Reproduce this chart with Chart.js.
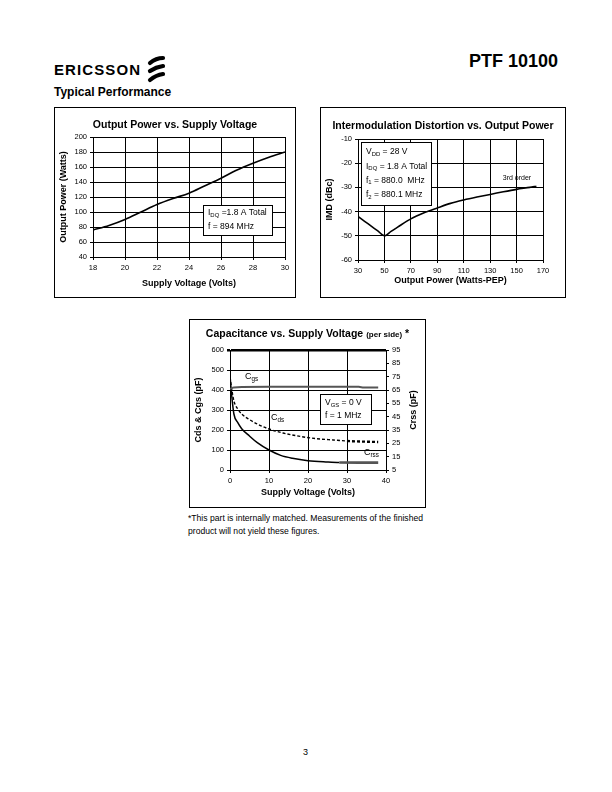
<!DOCTYPE html>
<html>
<head>
<meta charset="utf-8">
<script src="https://cdn.jsdelivr.net/npm/chart.js@4.4.0/dist/chart.umd.min.js"></script>
<style>
body { margin: 0; background: #fff; font-family: "Liberation Sans", Arial, sans-serif; color: #000; }
#page { position: relative; width: 612px; height: 792px; overflow: hidden; }
.abs { position: absolute; white-space: nowrap; }
.box { position: absolute; border: 1px solid #000; box-sizing: border-box; }
.box canvas { position: absolute; left: 0; top: 0; }
.ctitle { position: absolute; left: 0; right: 0; text-align: center; font-weight: bold; font-size: 10.5px; line-height: 12px; white-space: nowrap; }
</style>
</head>
<body>
<div id="page">
  <div class="abs" style="left:54px;top:61px;font-weight:bold;font-size:15px;line-height:18px;letter-spacing:1.1px">ERICSSON</div>
  <svg class="abs" style="left:146px;top:55px" width="22" height="28" viewBox="0 0 22 28">
    <g stroke="#000" stroke-width="4.2" stroke-linecap="round" fill="none">
      <path d="M4 8 Q10 3 17 3"/>
      <path d="M4 16 Q10 12 17 11"/>
      <path d="M4 25 Q10 20 17 19"/>
    </g>
  </svg>
  <div class="abs" style="right:54px;top:51px;font-weight:bold;font-size:18px;line-height:20px">PTF 10100</div>
  <div class="abs" style="left:54px;top:85px;font-weight:bold;font-size:12px;line-height:14px">Typical Performance</div>

  <div class="box" style="left:54px;top:107px;width:242px;height:191px">
    <canvas id="chart1" width="240" height="189"></canvas>
    <div class="ctitle" style="top:10px">Output Power vs. Supply Voltage</div>
  </div>

  <div class="box" style="left:320px;top:107px;width:246px;height:191px">
    <canvas id="chart2" width="244" height="189"></canvas>
    <div class="ctitle" style="top:11px">Intermodulation Distortion vs. Output Power</div>
  </div>

  <div class="box" style="left:189px;top:319px;width:237px;height:189px">
    <canvas id="chart3" width="235" height="187"></canvas>
    <div class="ctitle" style="top:7px">Capacitance vs. Supply Voltage <span style="font-size:8px">(per side)</span> *</div>
  </div>

  <div class="abs" style="left:188px;top:512px;font-size:8.6px;line-height:13px">*This part is internally matched. Measurements of the finished<br>product will not yield these figures.</div>
  <div class="abs" style="left:303px;top:746px;font-size:9px;line-height:12px">3</div>
</div>

<script>
// ---- data ----
var supplyVolts = [18, 19, 20, 21, 22, 23, 24, 25, 26, 27, 28, 29, 30];
var outputWatts = [76, 82, 90, 100, 110, 118, 125, 135, 145, 156, 165, 173, 180];

var pepWatts = [30, 35, 40, 45, 50, 55, 60, 70, 80, 90, 100, 110, 120, 130, 140, 150, 160, 165];
var imdDbc = [-42, -44, -46, -48, -50, -48.2, -46.4, -43, -40.5, -38.5, -36.6, -35.2, -34, -32.9, -31.8, -30.8, -30, -29.5];

var cgsVolts = [0, 0.5, 1, 3, 10, 20, 33, 34, 38];
var cgsPf = [405, 410, 413, 415, 416, 416, 416, 413, 413];

var cdsVolts = [0, 0.4, 1, 2, 3, 5, 7, 10, 13.6, 18, 22, 26.5, 30, 34, 38];
var cdsPf = [465, 410, 345, 305, 280, 252, 230, 205, 185, 168, 157, 150, 145, 142, 140];

var crssVolts = [0, 0.4, 1, 2, 3, 5, 7, 10, 13, 16, 20, 25, 28, 33, 38];
var crssPf = [76, 62, 47, 40.5, 36, 30.5, 25.5, 20, 16, 13.8, 12, 11, 10.6, 10.5, 10.5];

var FONT = '"Liberation Sans", Arial, sans-serif';

function pts(xs, ys) {
  return xs.map(function (x, i) { return { x: x, y: ys[i] }; });
}

// text with subscripts: parts = [[text, isSub], ...]
function richText(ctx, parts, x, y, size, align) {
  var w = 0;
  parts.forEach(function (p) {
    ctx.font = (p[1] ? size * 0.7 : size) + 'px ' + FONT;
    w += ctx.measureText(p[0]).width;
  });
  var cx = align === 'center' ? x - w / 2 : x;
  parts.forEach(function (p) {
    ctx.font = (p[1] ? size * 0.7 : size) + 'px ' + FONT;
    ctx.fillText(p[0], cx, y + (p[1] ? size * 0.28 : 0));
    cx += ctx.measureText(p[0]).width;
  });
}

var notesPlugin = {
  id: 'notes',
  afterDatasetsDraw: function (chart, args, opts) {
    var ctx = chart.ctx, a = chart.chartArea;
    ctx.save();
    ctx.fillStyle = '#000';
    ctx.textBaseline = 'middle';
    if (opts.box) {
      var b = opts.box;
      ctx.fillStyle = '#fff';
      ctx.fillRect(a.left + b.x, a.top + b.y, b.w, b.h);
      ctx.strokeStyle = '#000';
      ctx.lineWidth = 1;
      ctx.strokeRect(a.left + b.x + 0.5, a.top + b.y + 0.5, b.w, b.h);
      ctx.fillStyle = '#000';
      b.lines.forEach(function (ln, i) {
        richText(ctx, ln, a.left + b.x + 5, a.top + b.y + b.first + i * b.step, b.size);
      });
    }
    (opts.labels || []).forEach(function (l) {
      richText(ctx, l.parts, a.left + l.x, a.top + l.y, l.size, l.align);
    });
    if (opts.rightTitle) {
      ctx.translate(opts.rightTitle.x, (a.top + a.bottom) / 2);
      ctx.rotate(-Math.PI / 2);
      ctx.textAlign = 'center';
      ctx.font = 'bold 9px ' + FONT;
      ctx.fillText(opts.rightTitle.text, 0, 0);
    }
    ctx.restore();
  }
};
Chart.register(notesPlugin);

function axis(min, max, step, title, fit, titlePad, extra) {
  var o = {
    type: 'linear',
    min: min,
    max: max,
    ticks: { stepSize: step, color: '#000', font: { family: FONT, size: 7.5 }, padding: 3 },
    grid: { color: '#000', lineWidth: 1, tickLength: 3 },
    border: { color: '#000', width: 1 },
    title: { display: !!title, text: title, color: '#000', font: { family: FONT, size: 9, weight: 'bold' }, padding: titlePad },
    afterFit: fit
  };
  if (extra) Object.assign(o, extra);
  return o;
}

function baseOptions(padding) {
  return {
    responsive: false,
    animation: false,
    layout: { padding: padding },
    plugins: { legend: { display: false }, tooltip: { enabled: false } },
    elements: { point: { radius: 0 } }
  };
}

// ---- chart 1: output power vs supply voltage ----
var opt1 = baseOptions({ top: 29, right: 10, left: 0, bottom: 0 });
opt1.scales = {
  x: axis(18, 30, 2, 'Supply Voltage (Volts)', function (s) { s.height = 40; }, { top: 0, bottom: 7.6 }),
  y: axis(40, 200, 20, 'Output Power (Watts)', function (s) { s.width = 38; }, { top: 3.6, bottom: 0 })
};
opt1.plugins.notes = {
  box: { x: 110, y: 68, w: 69, h: 30, first: 8, step: 14, size: 8.5,
    lines: [[['I', 0], ['DQ', 1], [' =1.8 A Total', 0]], [['f = 894 MHz', 0]]] }
};
new Chart(document.getElementById('chart1'), {
  type: 'line',
  data: { datasets: [{ data: pts(supplyVolts, outputWatts), borderColor: '#000', borderWidth: 1.6, cubicInterpolationMode: 'monotone' }] },
  options: opt1
});

// ---- chart 2: IMD vs output power ----
var opt2 = baseOptions({ top: 31, right: 22, left: 0, bottom: 0 });
opt2.scales = {
  x: axis(30, 170, 20, 'Output Power (Watts-PEP)', function (s) { s.height = 37; }, { top: 0, bottom: 10.6 }),
  y: axis(-60, -10, 10, 'IMD (dBc)', function (s) { s.width = 37; }, { top: 3.6, bottom: 0 })
};
opt2.plugins.notes = {
  box: { x: 3, y: 3, w: 70, h: 63, first: 10, step: 14.2, size: 8.5,
    lines: [
      [['V', 0], ['DD', 1], [' = 28 V', 0]],
      [['I', 0], ['DQ', 1], [' = 1.8 A Total', 0]],
      [['f', 0], ['1', 1], [' = 880.0  MHz', 0]],
      [['f', 0], ['2', 1], [' = 880.1 MHz', 0]]
    ] },
  labels: [{ parts: [['3rd order', 0]], x: 159, y: 39, size: 7, align: 'center' }]
};
new Chart(document.getElementById('chart2'), {
  type: 'line',
  data: { datasets: [{ data: pts(pepWatts, imdDbc), borderColor: '#000', borderWidth: 1.6, tension: 0.3 }] },
  options: opt2
});

// ---- chart 3: capacitance vs supply voltage ----
var opt3 = baseOptions({ top: 30, right: 0, left: 0, bottom: 0 });
opt3.scales = {
  x: axis(0, 40, 10, 'Supply Voltage (Volts)', function (s) { s.height = 37; }, { top: 0, bottom: 8.6 }),
  y: axis(0, 600, 100, 'Cds & Cgs (pF)', function (s) { s.width = 40; }, { top: 3.6, bottom: 0 }),
  y2: axis(5, 95, 10, '', function (s) { s.width = 39; }, 0, { position: 'right' })
};
opt3.scales.y.grid.lineWidth = function (c) { return c.tick && c.tick.value === 600 ? 2.5 : 1; };
opt3.scales.y2.grid = { color: '#000', drawOnChartArea: false, tickLength: 3 };
opt3.scales.y2.ticks.padding = 3;
opt3.plugins.notes = {
  box: { x: 90, y: 44, w: 51, h: 30, first: 9, step: 13, size: 8.5,
    lines: [[['V', 0], ['GS', 1], [' = 0 V', 0]], [['f = 1 MHz', 0]]] },
  labels: [
    { parts: [['C', 0], ['gs', 1]], x: 15, y: 27, size: 9 },
    { parts: [['C', 0], ['ds', 1]], x: 41, y: 68, size: 9 },
    { parts: [['C', 0], ['rss', 1]], x: 134, y: 103, size: 9 }
  ],
  rightTitle: { text: 'Crss (pF)', x: 224 }
};
new Chart(document.getElementById('chart3'), {
  type: 'line',
  data: {
    datasets: [
      { data: pts(cgsVolts, cgsPf), yAxisID: 'y', borderColor: '#555', borderWidth: 2 },
      { data: pts(cdsVolts, cdsPf), yAxisID: 'y', borderColor: '#000', borderWidth: 1.4, borderDash: [3, 2], cubicInterpolationMode: 'monotone',
        segment: { borderWidth: function (c) { return c.p0.parsed.x >= 30 ? 2.4 : 1.4; } } },
      { data: pts(crssVolts, crssPf), yAxisID: 'y2', borderColor: '#000', borderWidth: 1.5, cubicInterpolationMode: 'monotone',
        segment: {
          borderColor: function (c) { return c.p0.parsed.x >= 28 ? '#555' : '#000'; },
          borderWidth: function (c) { return c.p0.parsed.x >= 28 ? 2.6 : 1.5; }
        } }
    ]
  },
  options: opt3
});
</script>
</body>
</html>
